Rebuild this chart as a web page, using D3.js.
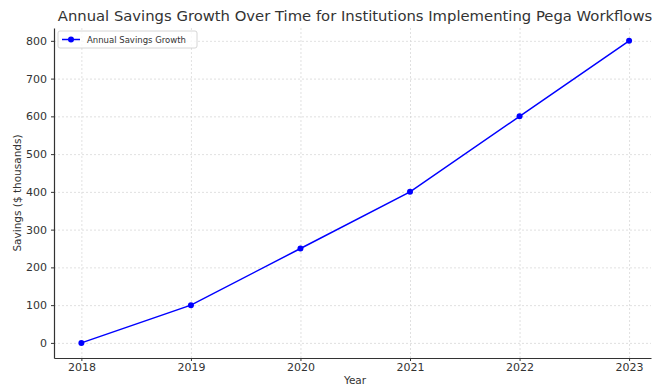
<!DOCTYPE html>
<html>
<head>
<meta charset="utf-8">
<script src="https://cdn.jsdelivr.net/npm/d3@7"></script>
<style>
  body { margin: 0; background: #fff; }
  text { font-family: "DejaVu Sans", sans-serif; fill: #333; }
  .grid line { stroke: #d8d8d8; stroke-dasharray: 2,2; stroke-width: 0.8; }
  .grid path { display: none; }
  .axis path { stroke: #333; }
  .axis line { stroke: #333; }
</style>
</head>
<body>
<div id="chart"></div>
<script>
var years = [2018, 2019, 2020, 2021, 2022, 2023];
var savings = [0, 100, 250, 400, 600, 800];
var yTicks = [0, 100, 200, 300, 400, 500, 600, 700, 800];
var seriesName = "Annual Savings Growth";

var W = 652, H = 385;
var margin = {top: 28, right: 1, bottom: 27, left: 54},
    width = W - margin.left - margin.right,
    height = H - margin.top - margin.bottom;

var svg = d3.select("#chart").append("svg")
    .attr("width", W)
    .attr("height", H);

var g = svg.append("g")
    .attr("transform", "translate(" + margin.left + "," + margin.top + ")");

var x = d3.scaleLinear().domain([2017.75, 2023.2]).range([0, width]);
var y = d3.scaleLinear().domain([-40, 834]).range([height, 0]);

// grid
g.append("g").attr("class", "grid")
    .attr("transform", "translate(0," + height + ")")
    .call(d3.axisBottom(x).tickValues(years).tickSize(-height).tickFormat(""));
g.append("g").attr("class", "grid")
    .call(d3.axisLeft(y).tickValues(yTicks).tickSize(-width).tickFormat(""));

// axes
var xAxis = g.append("g").attr("class", "axis")
    .attr("transform", "translate(0," + height + ")")
    .call(d3.axisBottom(x).tickValues(years).tickFormat(d3.format("d")).tickSize(3).tickPadding(2).tickSizeOuter(0));
var yAxis = g.append("g").attr("class", "axis")
    .call(d3.axisLeft(y).tickValues(yTicks).tickSize(3).tickPadding(4).tickSizeOuter(0));
xAxis.selectAll("text").style("font-size", "11px");
yAxis.selectAll("text").style("font-size", "11px");
xAxis.select(".domain").attr("stroke-width", 1.2);
yAxis.select(".domain").attr("stroke-width", 1.2);

// line
var line = d3.line()
    .x(function(d, i) { return x(years[i]); })
    .y(function(d) { return y(d); });

g.append("path")
    .datum(savings)
    .attr("fill", "none")
    .attr("stroke", "#0000ff")
    .attr("stroke-width", 1.5)
    .attr("d", line);

g.selectAll(".dot")
    .data(savings)
  .enter().append("circle")
    .attr("class", "dot")
    .attr("r", 3)
    .attr("cx", function(d, i) { return x(years[i]); })
    .attr("cy", function(d) { return y(d); })
    .attr("fill", "#0000ff");

// title and labels
svg.append("text")
    .attr("x", 355).attr("y", 21)
    .attr("text-anchor", "middle")
    .style("font-size", "14.8px")
    .text("Annual Savings Growth Over Time for Institutions Implementing Pega Workflows");

svg.append("text")
    .attr("x", 355).attr("y", 384)
    .attr("text-anchor", "middle")
    .style("font-size", "10.5px")
    .text("Year");

svg.append("text")
    .attr("transform", "rotate(-90)")
    .attr("x", -(margin.top + height / 2)).attr("y", 21)
    .attr("text-anchor", "middle")
    .style("font-size", "10.5px")
    .text("Savings ($ thousands)");

// legend
var leg = g.append("g").attr("transform", "translate(4,3)");
leg.append("rect")
    .attr("width", 139).attr("height", 17).attr("rx", 2)
    .attr("fill", "#fff").attr("fill-opacity", 0.8)
    .attr("stroke", "#ccc").attr("stroke-width", 0.8);
leg.append("line")
    .attr("x1", 4).attr("x2", 22).attr("y1", 8.5).attr("y2", 8.5)
    .attr("stroke", "#0000ff").attr("stroke-width", 1.5);
leg.append("circle")
    .attr("cx", 13).attr("cy", 8.5).attr("r", 3).attr("fill", "#0000ff");
leg.append("text")
    .attr("x", 29).attr("y", 12)
    .style("font-size", "8.5px")
    .text(seriesName);
</script>
</body>
</html>
